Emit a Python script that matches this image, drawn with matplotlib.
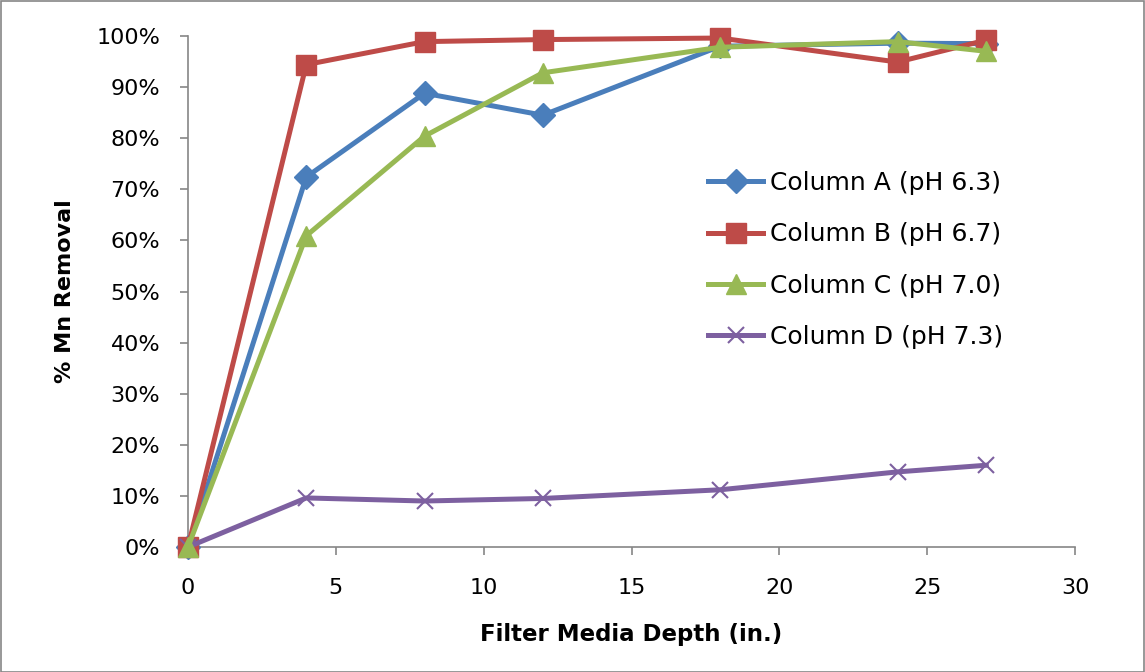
import matplotlib
matplotlib.use("Agg")
import matplotlib.pyplot as plt
from matplotlib.ticker import FuncFormatter, MultipleLocator
from matplotlib.patches import Rectangle

plt.rcParams['font.family'] = ['DejaVu Sans']

depth = [0, 4, 8, 12, 18, 24, 27]
col_a = [0, 72.4, 88.8, 84.5, 98.0, 98.6, 98.5]
col_b = [0, 94.4, 98.9, 99.3, 99.6, 94.9, 99.2]
col_c = [0, 60.9, 80.4, 92.8, 97.8, 98.9, 97.0]
col_d = [0, 9.6, 9.0, 9.5, 11.2, 14.7, 16.0]
labels = ["Column A (pH 6.3)", "Column B (pH 6.7)", "Column C (pH 7.0)", "Column D (pH 7.3)"]

W, H = 1145, 672
fig = plt.figure(figsize=(W/100, H/100), dpi=100)
ax = fig.add_axes([188/W, 1-547/H, (1075-188)/W, (547-36)/H])

lw = 3.6
ax.plot(depth, col_a, color='#4A7EBB', lw=lw, marker='D', ms=12, label=labels[0], zorder=3)
ax.plot(depth, col_b, color='#BE4B48', lw=lw, marker='s', ms=14, label=labels[1], zorder=3)
ax.plot(depth, col_c, color='#98B954', lw=lw, marker='^', ms=15, label=labels[2], zorder=4)
ax.plot(depth, col_d, color='#7D60A0', lw=lw, marker='x', ms=12, mew=1.5, label=labels[3], zorder=3)

ax.set_xlim(0, 30)
ax.set_ylim(0, 100)
ax.xaxis.set_major_locator(MultipleLocator(5))
ax.yaxis.set_major_locator(MultipleLocator(10))
ax.yaxis.set_major_formatter(FuncFormatter(lambda v, p: f"{v:.0f}%"))
for s in ['top', 'right']:
    ax.spines[s].set_visible(False)
for s in ['left', 'bottom']:
    ax.spines[s].set_color('#868686')
    ax.spines[s].set_linewidth(1.2)
ax.tick_params(axis='both', colors='#868686', labelcolor='black', labelsize=16, length=6, width=1.2)
ax.tick_params(axis='x', direction='out', pad=16)
ax.tick_params(axis='y', direction='out', pad=14)
for ln in ax.lines:
    ln.set_clip_on(False)

ax.set_xlabel("Filter Media Depth (in.)", fontsize=16.5, fontweight='bold', va='center')
ax.set_ylabel("% Mn Removal", fontsize=16, fontweight='bold', va='center')
ax.xaxis.set_label_coords(0.5, (547-634)/511)
ax.yaxis.set_label_coords((65-188)/887, 0.5)

leg = ax.legend(loc='upper left', bbox_to_anchor=((708-188)/887, (547-171)/511), frameon=False,
                fontsize=18, handlelength=2.2, handletextpad=0.28, labelspacing=1.09,
                borderaxespad=0, borderpad=0)

fig.patches.append(Rectangle((0.5/W, 0.5/H), 1-1.5/W, 1-1.5/H, transform=fig.transFigure,
                             fill=False, edgecolor='#868686', lw=1.2))

fig.savefig("out.png", dpi=100)
